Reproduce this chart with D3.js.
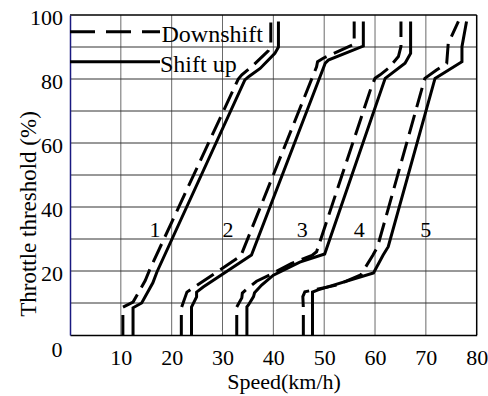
<!DOCTYPE html>
<html><head><meta charset="utf-8">
<script src="https://cdn.jsdelivr.net/npm/d3@7"></script>
<style>body{margin:0;background:#fff}svg{display:block}svg text{font-family:"Liberation Serif","DejaVu Serif",serif}</style>
</head><body><svg id="c" width="488" height="396"></svg>
<script>
// ---- data (speed km/h, throttle %) ----
const xTicks = [10, 20, 30, 40, 50, 60, 70, 80];
const yTicks = [20, 40, 60, 80, 100];
const xGrid = [10, 20, 30, 40, 50, 60, 70];
const yGrid = [10, 20, 30, 40, 50, 60, 70, 80, 90];

const up12 = [[12.4,0],[12.4,8.5],[14.1,10],[16.3,16.3],[17.1,19.7],[34.4,79.7],[35.2,80.8],[37.4,83.3],[40.3,88],[41,90],[41,98]];
const down12 = [[10.4,0],[10.4,8.7],[12.4,10.3],[14.8,17],[15.7,20.5],[33.1,80],[33.8,81.3],[36.1,84.4],[39,88.8],[39.5,90.5],[39.5,98]];
const up23 = [[23.9,0],[23.9,8.75],[24.9,11.9],[24.9,13.4],[26.2,15],[35.7,25],[50.2,84.9],[50.8,85.9],[57.7,90.3],[57.7,98]];
const down23 = [[21.9,0],[21.9,8.4],[22.6,11.6],[23,13.4],[24.5,15],[33.6,24.7],[48.5,83.8],[48.7,85.4],[49.8,86.5],[55.9,90.9],[55.9,98]];
const up34 = [[34.8,0],[34.8,8.8],[35.1,9.4],[36.1,12],[36.3,13.2],[37.7,15.6],[40,18.7],[45.2,22.8],[50.1,25.3],[62,80.2],[65.9,84.9],[67,88],[67,98]];
const down34 = [[32.8,0],[32.8,8.75],[33.8,11.6],[33.9,13.1],[34.8,14.4],[36.7,16.8],[39.3,18.8],[43.6,22.4],[47.6,24.9],[48.5,26],[59.3,77.6],[60,80.2],[61,81.3],[62.6,83.3],[64.6,87],[65.1,90.1],[65.1,98]];
const up45 = [[47.7,0],[47.7,13.4],[48.8,14.1],[59.7,19.4],[61.6,25],[62.6,27.6],[71.8,80.2],[77.1,85.4],[77.1,90.1],[78,98]];
const down45 = [[45.9,0],[45.9,8.4],[45.8,12],[46.2,13.5],[52.5,15.6],[57.2,18.8],[59.6,25],[60.5,27.6],[69.8,80.2],[72.1,82.8],[74.1,84.9],[74.4,91.1],[76.4,98]];

const gearNames = ["1", "2", "3", "4", "5"];
const gearSpeed = [16.7, 31.1, 45.7, 56.9, 70.0];
const gearThrottle = [33, 33, 33, 33, 33];

const legendNames = ["Downshift", "Shift up"];

// ---- drawing ----
const svg = d3.select("#c");
const L = 70, R = 476.7, T = 15, B = 335;
const x = d3.scaleLinear().domain([0, 80]).range([L, R]);
const y = d3.scaleLinear().domain([0, 100]).range([B, T]);
const font = "Liberation Serif";

// grid
svg.append("g").selectAll("line").data(xGrid).join("line")
  .attr("x1", d => x(d)).attr("x2", d => x(d)).attr("y1", T).attr("y2", B)
  .attr("stroke", "#6a6a6a").attr("stroke-width", 1);
svg.append("g").selectAll("line").data(yGrid).join("line")
  .attr("x1", L).attr("x2", R).attr("y1", d => y(d)).attr("y2", d => y(d))
  .attr("stroke", "#333").attr("stroke-width", 1);

// frame
svg.append("line").attr("x1", L).attr("x2", R).attr("y1", T).attr("y2", T).attr("stroke", "#000").attr("stroke-width", 1.5);
svg.append("line").attr("x1", R).attr("x2", R).attr("y1", T).attr("y2", B).attr("stroke", "#000").attr("stroke-width", 1.5);

// axes
const xAxis = d3.axisBottom(x).tickValues(xTicks).tickSize(0).tickPadding(0).tickFormat(d3.format("d"));
const gx = svg.append("g").attr("transform", `translate(0,${B})`).call(xAxis)
  .attr("font-family", null).attr("font-size", null);
gx.select(".domain").attr("stroke", "#000").attr("stroke-width", 1.5);
gx.selectAll("text").style("font-size", "22px").attr("fill", "#000")
  .attr("dy", null).attr("y", 30);

const yAxis = d3.axisLeft(y).tickValues(yTicks).tickSize(0).tickPadding(7).tickFormat(d3.format("d"));
const gy = svg.append("g").attr("transform", `translate(${L},0)`).call(yAxis)
  .attr("font-family", null).attr("font-size", null);
gy.select(".domain").attr("stroke", "#1a1a80").attr("stroke-width", 1.5);
gy.selectAll("text").style("font-size", "22px").attr("fill", "#000")
  .attr("dy", null).attr("y", 9.5);

// origin label
svg.append("text").attr("x", x(0) - 13).attr("y", y(0) + 21.7).attr("text-anchor", "middle")
  .style("font-size", "22px").text("0");

// curves
const line = d3.line().x(d => x(d[0])).y(d => y(d[1]));
const curves = [
  [up12, false], [down12, true], [up23, false], [down23, true],
  [up34, false], [down34, true], [up45, false], [down45, true]
];
svg.append("g").selectAll("path").data(curves).join("path")
  .attr("d", d => line(d[0])).attr("fill", "none").attr("stroke", "#000")
  .attr("stroke-width", 3).attr("stroke-linejoin", "miter")
  .attr("stroke-dasharray", d => d[1] ? "20,8" : null);

// gear labels
svg.append("g").selectAll("text").data(gearNames).join("text")
  .attr("x", (d, i) => x(gearSpeed[i])).attr("y", (d, i) => y(gearThrottle[i]) + 8)
  .attr("text-anchor", "middle").style("font-size", "22px").text(d => d);

// legend
const legY = [94.8, 85.4];
svg.append("line").attr("x1", L).attr("x2", 160).attr("y1", y(legY[0])).attr("y2", y(legY[0]))
  .attr("stroke", "#000").attr("stroke-width", 3).attr("stroke-dasharray", "25,11");
svg.append("line").attr("x1", L).attr("x2", 160).attr("y1", y(legY[1])).attr("y2", y(legY[1]))
  .attr("stroke", "#000").attr("stroke-width", 3);
svg.append("g").selectAll("text").data(legendNames).join("text")
  .attr("x", (d, i) => i === 0 ? 161.5 : 160).attr("y", (d, i) => y(legY[i]) + 10)
  .style("font-size", "24px").text(d => d);

// axis titles
svg.append("text").attr("x", 284).attr("y", 389).attr("text-anchor", "middle")
  .style("font-size", "22px").text("Speed(km/h)");
svg.append("text").attr("transform", "translate(36,214) rotate(-90)").attr("text-anchor", "middle")
  .style("font-size", "23px").text("Throttle threshold (%)");
</script></body></html>
